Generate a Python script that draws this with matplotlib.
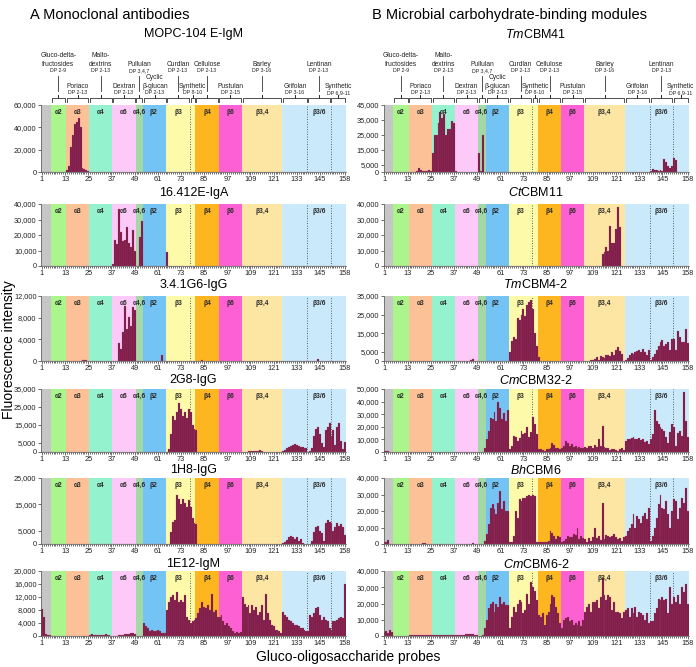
import numpy as np
import matplotlib
matplotlib.use('Agg')
import matplotlib.pyplot as plt
from matplotlib.transforms import blended_transform_factory

plt.rcParams['font.family'] = ['Liberation Sans', 'DejaVu Sans']
plt.rcParams['mathtext.fontset'] = 'custom'
plt.rcParams['mathtext.it'] = 'Liberation Sans:italic'
plt.rcParams['mathtext.rm'] = 'Liberation Sans'

N = 158
probes = np.arange(1, N + 1)

# colour bands along the probe axis
band_edges = [0.5, 5.5, 13.5, 25.5, 37.5, 49.5, 53.5, 65.5, 80.5, 92.5, 104.5, 125.5, 158.5]
band_colors = ['#c6c6c6', '#aaf58c', '#fdc198', '#94f2cf', '#fcc9f8', '#a4d9a7',
               '#74c3f5', '#fdfaa9', '#fdb520', '#fd60d3', '#fde6a3', '#cae9fb']
band_labels = ['α2', 'α3', 'α4', 'α6', 'α4,6', 'β2', 'β3', 'β4', 'β6', 'β3,4', 'β3/6']
band_label_x = [9.5, 19.5, 31.5, 43.5, 51.3, 58.5, 71.5, 86.5, 98.5, 115, 144.5]
dotted_x = [77.5, 138.5, 150.5]

# header brackets (probe spans) and their labels
hdr_spans = [(5.5, 13.5), (13.5, 25.5), (25.5, 37.5), (37.5, 49.5), (49.5, 53.5),
             (53.5, 65.5), (65.5, 77.5), (77.5, 80.5), (80.5, 92.5), (92.5, 104.5),
             (104.5, 125.5), (125.5, 138.5), (138.5, 150.5), (150.5, 158.5)]
hdr_names = ['Gluco-delta-\nfructosides', 'Poriaco', 'Malto-\ndextrins', 'Dextran',
             'Pullulan', 'Cyclic\nβ-glucan', 'Curdlan', 'Synthetic', 'Cellulose',
             'Pustulan', 'Barley', 'Grifolan', 'Lentinan', 'Synthetic']
hdr_dp = ['DP 2-9', 'DP 2-13', 'DP 2-13', 'DP 2-13', 'DP 3,4,7', 'DP 2-13', 'DP 2-13',
          'DP 8-10', 'DP 2-13', 'DP 2-15', 'DP 3-16', 'DP 3-16', 'DP 2-13', 'DP 6,9-11']
hdr_row = [0, 1, 0, 1, 0, 1, 0, 1, 0, 1, 0, 1, 0, 1]

# intensities (x1000), runs of consecutive probes: {first probe: [values]}
mopc104 = {14: [1.5, 5, 22, 33, 43, 45, 48, 40, 3.5, 3, 2, 1]}
iga16412 = {38: [1.5, 17, 14, 37, 22, 16, 17, 25, 15, 12, 23, 10], 52: [19, 29], 66: [9]}
g341g6 = {22: [0.1, 0.1, 0.1], 41: [3.3, 2.2, 5.4, 10.2, 6.0, 8.2, 6.5, 10.0, 9.5],
          63: [1.1], 84: [0.15], 144: [0.4]}
g2g8 = {67: [1.5, 10, 20, 18, 22, 27.5, 24, 20, 22, 19, 24, 22, 15, 13, 12],
        108: [0.6, 0.4, 0.3, 0.8, 0.3, 0.5, 1.0, 0.4],
        126: [0.5, 1.0, 2.0, 3.0, 3.5, 4.0, 4.5, 4.0, 3.5, 3.0, 3.0, 2.5, 2.5],
        140: [0.5, 2, 9, 13, 14, 10, 5, 3, 12, 14, 16, 9, 12, 4, 14, 16, 6, 1.5, 5.5]}
g1h8 = {68: [4.5, 8.5, 9, 18.5, 17, 15, 17, 15.5, 14, 16.5, 14, 10, 8, 7.5],
        126: [0.5, 0.8, 1.5, 2.5, 3, 2.5, 2, 2.5, 1, 2, 0.5],
        141: [1, 4.5, 6.5, 7, 5, 4, 1, 8, 9, 8.5, 8, 5, 6.5, 8, 7, 7.5, 6.5, 3.5]}
m1e12 = {1: [8.2, 6.0, 0.5, 0.4, 0.2],
         26: [0.3, 0.5, 0.4, 0.3, 0.2, 0.3, 0.4, 0.3, 0.5, 0.4, 0.3, 0.1],
         41: [0.2, 0.3, 0.4, 0.5, 0.5, 0.6, 0.9, 0.8, 0.5],
         54: [4.0, 3.0, 2.5, 1.5, 1.8, 1.5, 1.5, 1.7, 1.4, 1.0, 1.0, 0.8],
         66: [8.0, 10.5, 12.0, 12.5, 11.0, 13.5, 10.5, 11.0, 10.5, 12.5, 6.0, 5.0, 4.0, 4.5, 5.0],
         81: [5.5, 7.0, 8.5, 10.5, 9.0, 8.5, 9.5, 8.0, 13.0, 7.5, 8.0, 6.0],
         93: [6.0, 6.5, 4.5, 3.5, 4.0, 3.0, 2.5, 1.5, 1.0, 1.2, 1.0, 1.2],
         105: [12.0, 10.0, 9.0, 9.5, 7.0, 9.5, 8.0, 9.0, 6.5, 7.5, 9.5, 5.0, 13.0, 7.0,
               5.0, 3.5, 3.0, 2.0, 2.0, 1.5, 1.0],
         126: [7.5, 6.5, 6.0, 5.0, 4.5, 4.0, 3.5, 3.5, 3.0, 2.5, 2.5, 2.0, 1.5, 1.5, 6.5,
               6.0, 7.0, 8.5, 9.0, 6.5, 5.0, 6.0, 5.0, 4.5, 2.5, 2.0, 4.5, 4.5, 5.0, 5.5,
               6.0, 5.5, 16.0]}

tm41 = {18: [1, 2.5, 1.5, 0.5, 1, 0.5, 1.5, 0.5],
        26: [12.5, 25, 25, 33, 40, 36, 39, 25, 29, 29, 34, 33, 0.5],
        50: [13, 0.5, 25],
        139: [1, 2, 1.5, 1.5, 1, 1.5, 1, 8.5, 7, 4, 3, 4, 9.5, 8]}
ct11 = {1: [0.3], 78: [0.3], 114: [7.5, 9, 12, 9.5, 26, 15, 15, 24, 38, 25], 150: [0.2, 0.3]}
tm42 = {46: [0.3, 1.0],
        66: [5, 11, 13, 12, 23, 22, 25, 28, 24, 30, 32, 33, 28, 15, 8, 2],
        108: [0.5, 0.3, 1, 2, 0.5, 2.5, 2, 1.5, 3, 3.5, 2.5, 5, 3, 6, 7.5, 5.5, 4],
        126: [0.5, 1.5, 3, 4.5, 4, 5, 5.5, 6, 5, 6.5, 5, 3.5, 6, 0.3, 2, 4, 6, 8, 10,
              11.5, 8, 9, 10, 6, 12, 12, 6, 16, 13, 10, 10.5, 17.5, 9.5]}
cm32 = {1: [0.5, 1, 0.5],
        53: [3, 10, 17, 27, 26, 32, 25, 40, 35, 26, 31, 25, 33],
        66: [2.5, 5, 13, 12, 9, 11, 17, 14, 15, 20, 12, 16, 28, 22, 14],
        81: [2, 2, 1.5, 1, 2.5, 2, 3, 7, 5.5, 3, 3, 2.5],
        93: [3, 5, 9, 7, 5, 6, 4, 5, 3.5, 4, 3.5, 3],
        105: [4, 3, 5, 4.5, 3.5, 5.5, 4, 10, 5, 21, 4, 3.5, 3, 1.5, 2, 2.5, 1.5, 1, 2, 3, 1.5],
        126: [9, 10, 10.5, 11, 12, 10, 10.5, 11, 9.5, 10, 8, 9, 6, 10, 14, 33, 25, 22,
              20, 18, 17, 12, 7, 16, 22, 20, 5, 15, 17, 13, 48, 25, 12]}
bh6 = {1: [1.5, 1.5, 2.4, 0.3], 8: [0.3], 20: [0.3, 0.5, 0.4, 0.3], 47: [0.5],
       53: [2, 6, 12, 22, 24, 21, 18, 25, 32, 21, 26, 20, 20],
       66: [1, 1.5, 5, 20, 16, 27, 26, 28, 28, 29, 30, 29, 30, 29, 1.5],
       81: [1, 1.5, 1, 1.5, 1, 2, 8, 6.5, 5, 3, 5, 4],
       93: [1.5, 2, 3, 5, 4.5, 4, 6, 5.5, 10, 3, 5, 3.5],
       105: [3, 1.5, 3.5, 2, 4, 10, 3.5, 5, 2.5, 25, 3, 5.5, 5, 4.5, 5, 6, 4.5, 3, 3.5, 2, 4],
       126: [5, 8, 10, 12, 18, 10, 17, 15, 13, 17, 19, 15, 22, 2, 5, 10, 16, 24, 30, 22,
             21, 26, 18, 10, 20, 27, 26, 15, 22, 28, 25, 34, 20]}
cm62 = {1: [2.5, 3, 2, 4, 2.5],
        6: [0.2, 0.2, 0.3, 0.2, 0.2, 0.3, 0.2, 0.3],
        14: [0.5, 0.4, 0.5, 0.6, 0.5, 0.8, 0.7, 0.6, 0.5, 0.6, 0.5, 0.5],
        26: [0.4, 0.5, 0.5, 0.6, 0.5, 0.5, 0.6, 0.5, 0.6, 0.5, 0.6, 0.6],
        38: [0.6, 0.7, 0.8, 0.9, 0.8, 1.0, 1.2, 1.0, 1.4, 1.1, 0.9, 0.7],
        50: [0.3, 0.3, 0.4],
        53: [5, 10, 17, 20, 21, 15, 20, 18, 24, 20, 21, 19, 19],
        66: [5, 12, 18, 15, 20, 22, 21, 14, 16, 26, 20, 33, 30, 28, 22],
        81: [13, 12, 14, 7, 13, 15, 20, 25, 24, 18, 14, 8],
        93: [5, 10, 11, 12, 9, 10, 7, 8, 7, 9, 6, 10],
        105: [15, 18, 20, 15, 21, 21, 22, 17, 24, 36, 25, 22, 25, 24, 16, 21, 15, 15, 14, 11, 15],
        126: [16, 17, 12, 17, 14, 18, 12, 15, 14, 13, 10, 14, 8, 9, 9, 14, 17, 23, 22, 24,
              22, 23, 14, 30, 20, 24, 21, 25, 20, 30, 27, 32, 20]}

left_titles = ['MOPC-104 E-IgM', '16.412E-IgA', '3.4.1G6-IgG', '2G8-IgG', '1H8-IgG', '1E12-IgM']
right_titles = [r'$\mathit{Tm}$CBM41', r'$\mathit{Ct}$CBM11', r'$\mathit{Tm}$CBM4-2',
                r'$\mathit{Cm}$CBM32-2', r'$\mathit{Bh}$CBM6', r'$\mathit{Cm}$CBM6-2']
left_data = [mopc104, iga16412, g341g6, g2g8, g1h8, m1e12]
right_data = [tm41, ct11, tm42, cm32, bh6, cm62]
left_yticks = [[0, 20000, 40000, 60000], [0, 10000, 20000, 30000, 40000],
               [0, 4000, 8000, 12000], [0, 5000, 15000, 25000, 35000],
               [0, 5000, 15000, 25000], [0, 4000, 8000, 12000, 16000, 20000]]
right_yticks = [[0, 5000, 15000, 25000, 35000, 45000], [0, 10000, 20000, 30000, 40000],
                [0, 5000, 15000, 25000, 35000], [0, 10000, 20000, 30000, 40000, 50000],
                [0, 10000, 20000, 30000, 40000], [0, 10000, 20000, 30000, 40000]]
xticks = [1, 13, 25, 37, 49, 61, 73, 85, 97, 109, 121, 133, 145, 158]


def expand(runs):
    y = np.zeros(N)
    for start, vals in runs.items():
        y[start - 1:start - 1 + len(vals)] = vals
    return y * 1000


W, H = 696, 667
rows_px = [(105, 172), (204, 266), (296, 361), (389, 452), (478, 544), (571, 636)]
cols_px = [(41, 346), (383.5, 688.5)]
title_y = [34, 193, 285, 380, 470, 564]

fig = plt.figure(figsize=(W / 100, H / 100), dpi=100)


def draw_header(ax, top_px, height_px):
    tr = blended_transform_factory(ax.transData, ax.transAxes)

    def fy(p):
        return 1 + (top_px - p) / height_px
    for (a, b), name, dp, row in zip(hdr_spans, hdr_names, hdr_dp, hdr_row):
        x0, x1, xm = a + 0.45, b - 0.45, (a + b) / 2
        ax.plot([x0, x0, xm, xm, xm, x1, x1],
                [fy(102), fy(98), fy(98), fy(95), fy(98), fy(98), fy(102)],
                color='#333333', lw=0.6, transform=tr, clip_on=False)
        if row == 0:
            ax.plot([xm, xm], [fy(76), fy(91)], color='#333333', lw=0.6,
                    transform=tr, clip_on=False)
            ax.text(xm, fy(70.5), dp, fontsize=3.8, ha='center', va='center',
                    transform=tr, color='#222222')
            ax.text(xm, fy(67.5), name, fontsize=4.8, ha='center', va='bottom',
                    transform=tr, linespacing=1.25, color='#222222')
        else:
            xt = 79 if a == 77.5 else xm
            ax.text(xt, fy(92.5), dp, fontsize=3.8, ha='center', va='center',
                    transform=tr, color='#222222')
            ax.text(xt, fy(89.5), name, fontsize=4.8, ha='center', va='bottom',
                    transform=tr, linespacing=1.25, color='#222222')


for c, (titles, datas, yticks) in enumerate([(left_titles, left_data, left_yticks),
                                             (right_titles, right_data, right_yticks)]):
    l, r = cols_px[c]
    for i in range(6):
        t, b = rows_px[i]
        ax = fig.add_axes([l / W, 1 - b / H, (r - l) / W, (b - t) / H])
        for k in range(len(band_colors)):
            ax.axvspan(band_edges[k], band_edges[k + 1], color=band_colors[k], lw=0, zorder=0)
        for xd in dotted_x:
            ax.axvline(xd, color='#333333', lw=0.6, ls=(0, (1, 2)), zorder=1)
        y = expand(datas[i])
        ax.bar(probes, y, width=1.0, color='#7d1846', edgecolor='#a8587a', lw=0.15, zorder=2)
        top = yticks[i][-1]
        ax.set_xlim(0.5, 158.5)
        ax.set_ylim(0, top)
        for lab, lx in zip(band_labels, band_label_x):
            ax.text(lx, top * 0.94, lab, fontsize=4.8, fontweight='bold', ha='center',
                    va='top', color='#2a2a2a', zorder=3)
        ax.set_yticks(yticks[i])
        ax.set_yticklabels(['{:,}'.format(v) for v in yticks[i]])
        ax.set_xticks(xticks)
        ax.set_xticks(probes, minor=True)
        ax.tick_params(axis='both', labelsize=5.3, length=2, width=0.5, pad=1.2,
                       colors='#333333', labelcolor='#222222')
        ax.tick_params(axis='x', which='minor', length=1.2, width=0.4)
        for s in ['top', 'right']:
            ax.spines[s].set_visible(False)
        for s in ['left', 'bottom']:
            ax.spines[s].set_linewidth(0.5)
            ax.spines[s].set_color('#555555')
        fig.text((l + r) / 2 / W, 1 - title_y[i] / H, titles[i], fontsize=9,
                 ha='center', va='center')
        if i == 0:
            draw_header(ax, t, b - t)

fig.text(30 / W, 1 - 15 / H, 'A Monoclonal antibodies', fontsize=10.5, va='center')
fig.text(372 / W, 1 - 15 / H, 'B Microbial carbohydrate-binding modules', fontsize=10.5,
         va='center')
fig.text(9 / W, 1 - 350 / H, 'Fluorescence intensity', fontsize=10, rotation=90,
         ha='center', va='center')
fig.text(348 / W, 1 - 657 / H, 'Gluco-oligosaccharide probes', fontsize=10,
         ha='center', va='center')

fig.savefig('out.png', dpi=100)
